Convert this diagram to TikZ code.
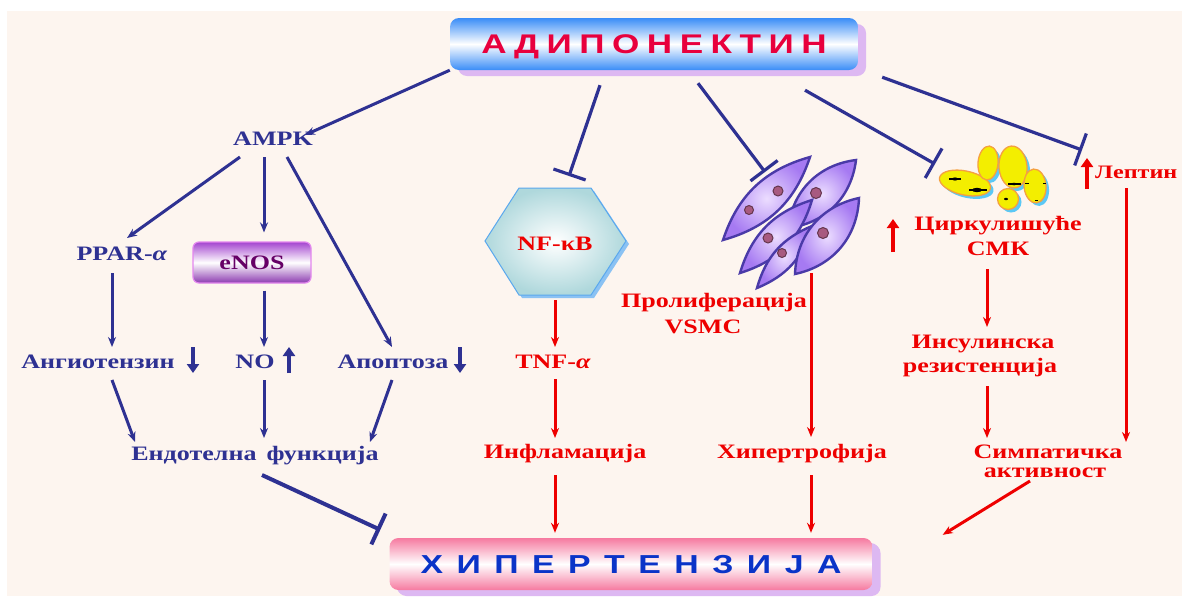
\documentclass[tikz,border=0pt]{standalone}
\usepackage{fontspec}
\setmainfont{Liberation Serif}[FakeStretch=1.27]
\newfontfamily\bannerfont{Liberation Sans}[FakeStretch=1.3]
\usetikzlibrary{arrows.meta,calc,shadows}

\definecolor{paper}{HTML}{FDF5EF}
\definecolor{navy}{HTML}{2E3192}
\definecolor{sigred}{HTML}{EE0000}
\definecolor{crimson}{HTML}{E8003D}
\definecolor{royal}{HTML}{0A34C8}
\definecolor{skyblue}{HTML}{3A8DF7}
\definecolor{rose}{HTML}{F67AA0}
\definecolor{lilac}{HTML}{DDB8F2}
\definecolor{plum}{HTML}{660066}
\definecolor{violet}{HTML}{A445CF}
\definecolor{orchid}{HTML}{E387EE}
\definecolor{hexfill}{HTML}{AFD8DC}
\definecolor{hexline}{HTML}{5AA8EE}
\definecolor{cellin}{HTML}{ECDDFF}
\definecolor{cellout}{HTML}{A67AF2}
\definecolor{celledge}{HTML}{4A3AA8}
\definecolor{nucleus}{HTML}{A85A80}
\definecolor{lemon}{HTML}{F3EE00}
\definecolor{amber}{HTML}{F5A040}
\definecolor{cyanish}{HTML}{5BC8F5}

\tikzset{
  lbl/.style={font=\bfseries\fontsize{20.5}{22}\selectfont, inner sep=0pt, anchor=base},
  bl/.style={lbl, text=navy},
  rd/.style={lbl, text=sigred},
  act/.style={draw=navy, line width=3pt, -{Stealth[length=10pt,width=8pt]}},
  ract/.style={draw=sigred, line width=3pt, -{Stealth[length=10pt,width=8pt]}},
  inhib/.style={draw=navy, line width=3.2pt, -{Bar[width=34pt]}},
  trendmark/.style={line width=4pt, -{Triangle[length=9pt,width=12pt]}},
  banner/.style={rounded corners=9pt, text depth=0pt,
    drop shadow={shadow xshift=8pt, shadow yshift=-6pt, fill=lilac, opacity=1}},
  cellbody/.style={draw=celledge, line width=2.4pt, inner color=cellin, outer color=cellout},
  nuc/.style={fill=nucleus, draw=nucleus!60!black, line width=1pt},
  smkcell/.style={fill=lemon, draw=amber, line width=1.3pt},
  smkshade/.style={fill=cyanish},
  granule/.style={line width=1.2pt, black}
}

\begin{document}
\begin{tikzpicture}[x=1pt,y=-1pt]
\clip (0,0) rectangle (1182,598);
\fill[white] (0,0) rectangle (1182,598);
\fill[paper] (7,11) rectangle (1182,596);

% banners
\node[banner, minimum width=408pt, minimum height=52pt,
      top color=skyblue, bottom color=skyblue, middle color=white,
      text=crimson, font=\bannerfont\bfseries\fontsize{27}{30}\selectfont]
  (adipo) at (654,44) {\spaceskip=7.5pt А Д И П О Н Е К Т И Н};
\node[banner, minimum width=483pt, minimum height=52pt,
      drop shadow={shadow xshift=7pt, shadow yshift=-5pt, fill=lilac, opacity=1},
      top color=rose, bottom color=rose, middle color=white,
      text=royal, font=\bannerfont\bfseries\fontsize{26}{30}\selectfont]
  (hyper) at (631,564) {\spaceskip=13.5pt Х И П Е Р Т Е Н З И Ј А};

% left branch
\node[bl] (ampk) at (273,145) {AMPK};
\node[bl] (ppar) at (122,260) {PPAR-\textit{α}};
\node[rounded corners=6pt, draw=orchid, line width=1.2pt,
      top color=violet, bottom color=violet!85!black, middle color=white,
      minimum width=118pt, minimum height=41pt, inner sep=0pt,
      text=plum, font=\bfseries\fontsize{20.5}{22}\selectfont]
  (enos) at (252,262.5) {eNOS};
\node[bl] (ang) at (98,368) {Ангиотензин};
\node[bl] (no) at (255,368) {NO};
\node[bl] (apop) at (393,368) {Апоптоза};
\node[bl] (endo) at (255,460) {Ендотелна\hspace{10pt}функција};

\draw[trendmark, navy] (193,347) -- (193,373);
\draw[trendmark, navy] (289,373) -- (289,347);
\draw[trendmark, navy] (460,347) -- (460,373);

\draw[act] (adipo.south west) -- ($(ampk.base)+(32,-10)$);
\draw[act] ($(ampk.base)+(-33,12)$) -- ($(ppar.base)+(5,-22)$);
\draw[act] ($(ampk.base)+(-9,12)$) -- ($(enos.north)+(12,-9)$);
\draw[act] ($(ampk.base)+(14,12)$) -- ($(apop.base)+(-1,-21)$);
\draw[act] ($(ppar.base)+(-10,13)$) -- ($(ang.base)+(14,-21)$);
\draw[act] ($(enos.south)+(12,7)$) -- ($(no.base)+(9,-21)$);
\draw[act] ($(ang.base)+(14,12)$) -- ($(endo.base)+(-120,-18)$);
\draw[act] ($(no.base)+(9,12)$) -- ($(endo.base)+(9,-22)$);
\draw[act] ($(apop.base)+(-1,12)$) -- ($(endo.base)+(115,-18)$);
\draw[inhib, line width=4pt] ($(endo.base)+(7,15)$) -- ($(hyper.north west)+(-9,-8)$);

% NF-kB hexagon
\coordinate (hexc) at (556,242);
\fill[hexline!70] ($(hexc)+(-68,2)$) -- ($(hexc)+(-34,-51)$) -- ($(hexc)+(38,-51)$)
  -- ($(hexc)+(73,2)$) -- ($(hexc)+(38,56)$) -- ($(hexc)+(-34,56)$) -- cycle;
\draw[hexline, line width=1pt, inner color=white, outer color=hexfill]
  ($(hexc)+(-71,-1)$) -- ($(hexc)+(-37,-54)$) -- ($(hexc)+(35,-54)$)
  -- ($(hexc)+(70,-1)$) -- ($(hexc)+(35,53)$) -- ($(hexc)+(-37,53)$) -- cycle;
\node[rd] (nfkb) at (555,250) {NF-κB};
\node[rd] (tnf) at (553,368) {TNF-\textit{α}};
\node[rd] (infl) at (565,458) {Инфламација};

\draw[inhib] ($(adipo.south)+(-54,15)$) -- ($(nfkb.base)+(14,-74)$);
\draw[ract] ($(nfkb.base)+(0,50)$) -- ($(tnf.base)+(2,-21)$);
\draw[ract] ($(tnf.base)+(2,11)$) -- ($(infl.base)+(-10,-20)$);
\draw[ract] ($(infl.base)+(-10,17)$) -- ($(hyper.north)+(-76,-5)$);

% smooth muscle cells: spindles with nuclei
\coordinate (vsmc) at (790,220);
\draw[cellbody] (723,240) to[bend left=28] (810,157) to[bend left=28] (723,240) -- cycle;
\draw[cellbody] (788,228) to[bend left=38] (856,160) to[bend left=38] (788,228) -- cycle;
\draw[cellbody] (740,273) to[bend left=28] (812,200) to[bend left=28] (740,273) -- cycle;
\draw[cellbody] (757,288) to[bend left=26] (812,226) to[bend left=26] (757,288) -- cycle;
\draw[cellbody] (795,274) to[bend left=38] (859,198) to[bend left=38] (795,274) -- cycle;
\draw[nuc] (778,191) circle [radius=5];
\draw[nuc] (749,210) circle [radius=4.5];
\draw[nuc] (816,193) circle [radius=5.5];
\draw[nuc] (768,238) circle [radius=5];
\draw[nuc] (782,253) circle [radius=4.5];
\draw[nuc] (823,233) circle [radius=5.5];

\node[rd] (prol) at (714,307) {Пролиферација};
\node[rd] (prol2) at (703,333) {VSMC};
\node[rd] (hypt) at (802,458) {Хипертрофија};

\draw[inhib] ($(adipo.south)+(44,13)$) -- ($(vsmc)+(-25,-48)$);
\draw[ract] ($(vsmc)+(21,53)$) -- ($(hypt.base)+(9,-21)$);
\draw[ract] ($(hypt.base)+(9,17)$) -- ($(hyper.north)+(180,-5)$);

% circulating cells
\coordinate (smkc) at (995,180);
\begin{scope}[shift={(3,3)}]
  \fill[smkshade, rotate around={-12:(965,183)}] (965,183) ellipse [x radius=26, y radius=12];
  \fill[smkshade, rotate around={-5:(988,163)}] (988,163) ellipse [x radius=10, y radius=17];
  \fill[smkshade, rotate around={5:(1013,167)}] (1013,167) ellipse [x radius=14, y radius=21];
  \fill[smkshade, rotate around={5:(1035,186)}] (1035,186) ellipse [x radius=11, y radius=17];
  \fill[smkshade] (1008,199) circle [radius=10.5];
\end{scope}
\draw[smkcell, rotate around={-12:(965,183)}] (965,183) ellipse [x radius=26, y radius=12];
\draw[smkcell, rotate around={-5:(988,163)}] (988,163) ellipse [x radius=10, y radius=17];
\draw[smkcell, rotate around={5:(1013,167)}] (1013,167) ellipse [x radius=14, y radius=21];
\draw[smkcell, rotate around={5:(1035,186)}] (1035,186) ellipse [x radius=11, y radius=17];
\draw[smkcell] (1008,199) circle [radius=10.5];
\draw[granule] (949,179) -- (961,179);
\fill[black] (955,179) ellipse [x radius=3, y radius=1.6];
\draw[granule] (969,190) -- (987,190);
\fill[black] (977,190) ellipse [x radius=5, y radius=2.2];
\draw[granule] (1008,184) -- (1021,184);
\fill[black] (1014,184) ellipse [x radius=2.5, y radius=1.3];
\draw[granule, line width=0.8pt] (1025,183) -- (1029,183);
\draw[granule, line width=0.8pt] (1043,183) -- (1046,183);
\draw[granule, line width=0.8pt] (1035,200) -- (1038,200);
\fill[black] (1006,199) ellipse [x radius=2, y radius=1.2];

\node[rd] (circ) at (998,230) {Циркулишуће};
\node[rd] (circ2) at (998,255) {СМК};
\node[rd, anchor=base west, font=\bfseries\fontsize{19}{22}\selectfont] (lept) at (1095,178) {Лептин};
\node[rd] (ins) at (983,348) {Инсулинска};
\node[rd] (ins2) at (980,372) {резистенција};
\node[rd] (symp) at (1048,458) {Симпатичка};
\node[rd] (symp2) at (1045,477) {активност};

\draw[trendmark, sigred] (893,252) -- (893,219);
\draw[trendmark, sigred] (1087,189) -- (1087,158);

\draw[inhib] ($(adipo.south)+(151,20)$) -- ($(smkc)+(-60,-16)$);
\draw[inhib] ($(adipo.south east)+(24,7)$) -- ($(lept.base west)+(-13,-28)$);
\draw[ract] ($(circ2.base)+(-11,14)$) -- ($(ins.base)+(4,-21)$);
\draw[ract] ($(ins2.base)+(7,14)$) -- ($(symp.base)+(-61,-20)$);
\draw[ract] ($(lept.base west)+(31,10)$) -- ($(symp.base)+(78,-16)$);
\draw[ract] ($(symp2.base)+(-15,4)$) -- ($(hyper.north east)+(70,-3)$);
\end{tikzpicture}
\end{document}
